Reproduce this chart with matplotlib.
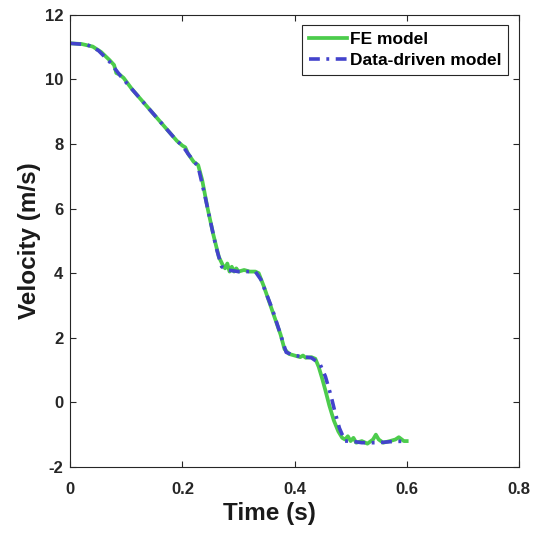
import numpy as np
import matplotlib
matplotlib.use("Agg")
import matplotlib.pyplot as plt

plt.rcParams['font.family'] = ['Liberation Sans', 'DejaVu Sans']
plt.rcParams['font.weight'] = 'bold'
plt.rcParams['axes.unicode_minus'] = False

# FE model response
fe_t = [0, 0.02, 0.04, 0.055, 0.07, 0.078, 0.082, 0.088, 0.095, 0.11, 0.13, 0.15, 0.17,
        0.19, 0.2, 0.205, 0.21, 0.22, 0.228, 0.235, 0.245, 0.255, 0.265, 0.272, 0.276,
        0.28, 0.284, 0.288, 0.292, 0.296, 0.30, 0.31, 0.32, 0.33, 0.336, 0.345, 0.355,
        0.365, 0.375, 0.382, 0.39, 0.40, 0.41, 0.415, 0.42, 0.43, 0.437, 0.443, 0.449,
        0.455, 0.462, 0.47, 0.478, 0.485, 0.49, 0.495, 0.50, 0.505, 0.51, 0.52, 0.53,
        0.54, 0.545, 0.55, 0.558, 0.57, 0.58, 0.586, 0.595, 0.60]
fe_v = [11.12, 11.1, 11.02, 10.85, 10.6, 10.45, 10.2, 10.15, 10.05, 9.7, 9.3, 8.9, 8.5,
        8.1, 7.95, 7.9, 7.7, 7.45, 7.35, 6.9, 6.0, 5.2, 4.5, 4.25, 4.15,
        4.3, 4.05, 4.2, 4.05, 4.15, 4.05, 4.1, 4.05, 4.05, 4.0, 3.6, 3.1,
        2.6, 2.1, 1.65, 1.5, 1.45, 1.4, 1.45, 1.38, 1.4, 1.35, 1.1, 0.75,
        0.37, -0.1, -0.56, -0.9, -1.1, -1.15, -1.05, -1.2, -1.1, -1.25, -1.2, -1.28,
        -1.15, -1.0, -1.15, -1.25, -1.2, -1.15, -1.08, -1.2, -1.2]

# data-driven model prediction
dd_t = [0, 0.03, 0.05, 0.07, 0.09, 0.11, 0.13, 0.15, 0.17, 0.19, 0.2, 0.21, 0.228,
        0.24, 0.25, 0.26, 0.27, 0.28, 0.30, 0.33, 0.34, 0.35, 0.36, 0.375, 0.385,
        0.40, 0.43, 0.445, 0.455, 0.465, 0.472, 0.48, 0.49, 0.50, 0.52, 0.55, 0.57, 0.6]
dd_v = [11.12, 11.08, 10.9, 10.55, 10.1, 9.7, 9.3, 8.9, 8.5, 8.1, 7.95, 7.7, 7.3,
        6.4, 5.6, 4.8, 4.2, 4.1, 4.05, 4.05, 3.8, 3.35, 2.9, 2.1, 1.55,
        1.45, 1.38, 1.2, 0.8, 0.2, -0.3, -0.8, -1.2, -1.2, -1.25, -1.25, -1.22, -1.2]

fig = plt.figure(figsize=(5.41, 5.33), dpi=100)
ax = fig.add_axes([0.130, 0.124, 0.829, 0.848])

ax.plot(fe_t, fe_v, color='#4ccc4c', lw=2.7, label='FE model')
ax.plot(dd_t, dd_v, color='#4343cc', lw=2.6, linestyle=(0, (3, 1.8, 0.8, 1.8)),
        label='Data-driven model')

ax.set_xlim(0, 0.8)
ax.set_ylim(-2, 12)
ax.set_xticks([0, 0.2, 0.4, 0.6, 0.8])
ax.set_xticklabels(['0', '0.2', '0.4', '0.6', '0.8'])
ax.set_yticks(range(-2, 13, 2))
ax.tick_params(direction='in', top=True, right=True, labelsize=12, length=4, width=0.8,
               colors='#262626')
ax.tick_params(axis='x', pad=11)
ax.tick_params(axis='y', pad=5)
for s in ax.spines.values():
    s.set_linewidth(0.8)
    s.set_color('#262626')

ax.set_xlabel('Time (s)', fontsize=17.5, fontweight='bold', color='#1a1a1a')
ax.set_ylabel('Velocity (m/s)', fontsize=17.5, fontweight='bold', labelpad=3, color='#1a1a1a')
ax.xaxis.set_label_coords(0.443, -0.077)

leg = ax.legend(loc='upper right', fontsize=12.5, fancybox=False, edgecolor='#262626',
                framealpha=1, handlelength=2.2, handletextpad=0.15, borderpad=0.4,
                labelspacing=0.3, borderaxespad=0.6)
leg.get_frame().set_linewidth(0.8)
for t in leg.get_texts():
    t.set_fontweight('bold')

fig.savefig('out.png', dpi=100)
